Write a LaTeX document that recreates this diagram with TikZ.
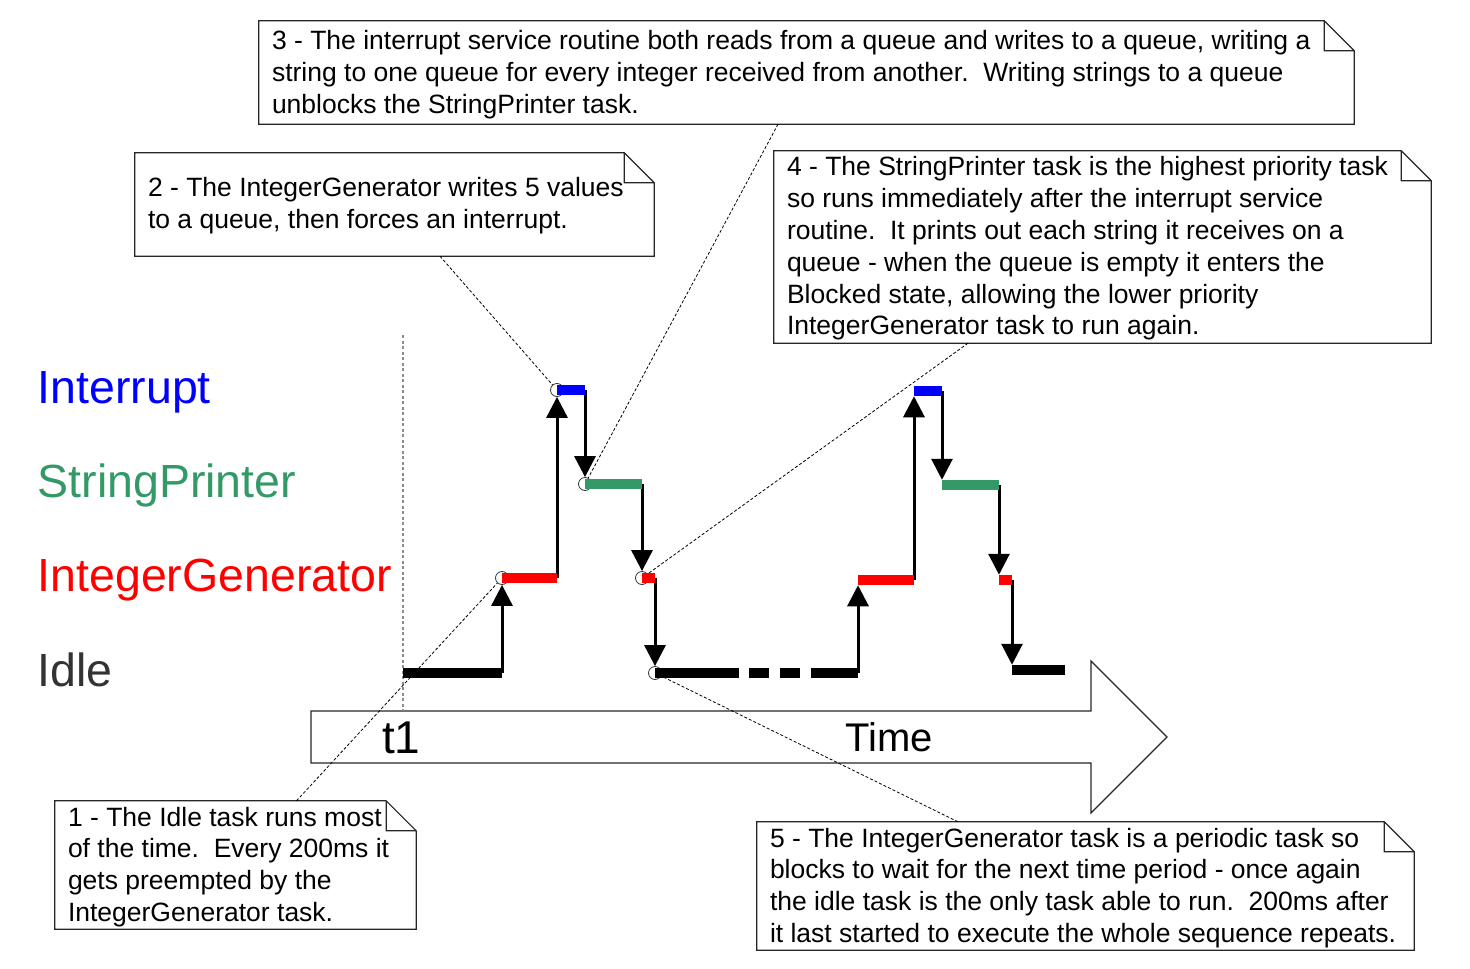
\documentclass[tikz,border=0pt]{standalone}
\usepackage{fontspec}
\setmainfont{Liberation Sans}
\usetikzlibrary{arrows.meta}
\definecolor{irqblue}{RGB}{0,0,255}
\definecolor{prngreen}{RGB}{51,153,102}
\definecolor{genred}{RGB}{255,0,0}
\definecolor{idlegray}{RGB}{51,51,51}
\newcommand{\fold}{30pt}
\tikzset{
  tasklabel/.style={anchor=base west, inner sep=0pt, font=\fontsize{46.5}{56}\selectfont},
  notebox/.style={rectangle, inner sep=0pt},
  notetext/.style={anchor=west, inner sep=0pt, align=left, font=\fontsize{26.5}{31.8}\selectfont},
  noteline/.style={draw=black!85, line width=1.2pt, line join=miter},
  callout/.style={draw=black, line width=0.8pt, dash pattern=on 3pt off 2pt},
  bar/.style={line width=10.5pt},
  switch/.style={line width=3pt, -{Triangle[length=21pt,width=21pt]}},
  pt/.style={circle, draw=black!80, line width=0.8pt, fill=white, minimum size=13pt, inner sep=0pt}
}
\begin{document}
\begin{tikzpicture}[x=1pt,y=-1pt]
\useasboundingbox (0,0) rectangle (1470,969);
\node[notebox, minimum width=361pt, minimum height=128pt] (noteidle) at (235.5,865) {};
\node[notebox, minimum width=519pt, minimum height=103pt] (notegen) at (394.5,204.5) {};
\node[notebox, minimum width=1095pt, minimum height=103pt] (noteisr) at (806.5,72.5) {};
\node[notebox, minimum width=657pt, minimum height=192pt] (noteprint) at (1102.5,247) {};
\node[notebox, minimum width=657pt, minimum height=128pt] (noteperiod) at (1085.5,886) {};
\foreach \n in {noteidle,notegen,noteisr,noteprint,noteperiod}
  \draw[noteline] (\n.south west) -- (\n.north west) -- ([xshift=-\fold]\n.north east)
    -- ([yshift=-\fold]\n.north east) -- (\n.south east) -- cycle
    ([xshift=-\fold]\n.north east) |- ([yshift=-\fold]\n.north east);
\node[notetext] (txtidle) at ([shift={(13,2)}]noteidle.west)
  {1 - The Idle task runs most\\ of the time.\ \ Every 200ms it\\ gets preempted by the\\ IntegerGenerator task.};
\node[notetext] (txtgen) at ([shift={(13,1)}]notegen.west)
  {2 - The IntegerGenerator writes 5 values\\ to a queue, then forces an interrupt.};
\node[notetext] (txtisr) at ([shift={(13,2)}]noteisr.west)
  {3 - The interrupt service routine both reads from a queue and writes to a queue, writing a\\ string to one queue for every integer received from another.\ \ Writing strings to a queue\\ unblocks the StringPrinter task.};
\node[notetext] (txtprint) at ([shift={(13,1.5)}]noteprint.west)
  {4 - The StringPrinter task is the highest priority task\\ so runs immediately after the interrupt service\\ routine.\ \ It prints out each string it receives on a\\ queue - when the queue is empty it enters the\\ Blocked state, allowing the lower priority\\ IntegerGenerator task to run again.};
\node[notetext] (txtperiod) at ([shift={(13,2)}]noteperiod.west)
  {5 - The IntegerGenerator task is a periodic task so\\ blocks to wait for the next time period - once again\\ the idle task is the only task able to run.\ \ 200ms after\\ it last started to execute the whole sequence repeats.};

\draw[noteline, fill=white] (311,711) -- (1091,711) -- (1091,661) -- (1167,737)
  -- (1091,813) -- (1091,763) -- (311,763) -- cycle;
\coordinate (tmark) at (403,335);
\coordinate (tbase) at (403,711);
\draw[black!45, line width=2pt, dash pattern=on 3pt off 2.5pt] (tmark) -- (tbase);
\node[anchor=base west, inner sep=0pt, font=\fontsize{46}{55}\selectfont] (tone) at (382,753) {t1};
\node[anchor=base west, inner sep=0pt, font=\fontsize{40}{48}\selectfont] (timetxt) at (845,751) {Time};

\node[tasklabel, text=irqblue] (lblirq) at (37.5,403) {Interrupt};
\node[tasklabel, text=prngreen] (lblprn) at (37.5,497) {StringPrinter};
\node[tasklabel, text=genred] (lblgen) at (37.5,591) {IntegerGenerator};
\node[tasklabel, text=idlegray] (lblidle) at (37.5,686) {Idle};

\coordinate (idleA) at (403,673);
\coordinate (idleB) at (502,673);
\node[pt] (genA) at (502,578) {};
\coordinate (genB) at (557,578);
\node[pt] (irqA) at (557,390) {};
\coordinate (irqB) at (585,390);
\node[pt] (prnA) at (585,484) {};
\coordinate (prnB) at (642,484);
\node[pt] (genC) at (642,578) {};
\coordinate (genD) at (655,578);
\node[pt] (idleC) at (655,673) {};
\coordinate (idleD) at (858,673);
\coordinate (genE) at (858,580);
\coordinate (genF) at (914,580);
\coordinate (irqC) at (914,391);
\coordinate (irqD) at (942,391);
\coordinate (prnC) at (942,485);
\coordinate (prnD) at (999,485);
\coordinate (genG) at (999,580);
\coordinate (genH) at (1012,580);
\coordinate (idleE) at (1012,670);
\coordinate (idleF) at (1065,670);

\draw[callout] ([xshift=61pt]noteidle.north) -- (genA);
\draw[callout] ([xshift=45.5pt]notegen.south) -- (irqA);
\draw[callout] ([xshift=-28.5pt]noteisr.south) -- (prnA);
\draw[callout] ([xshift=-134.5pt]noteprint.south) -- (genC);
\draw[callout] ([xshift=-127.5pt]noteperiod.north) -- (idleC);

\draw[switch] (idleB) -- (genA);
\draw[switch] (genB) -- (irqA);
\draw[switch] (irqB) -- (prnA);
\draw[switch] (prnB) -- (genC);
\draw[switch] (genD) -- (idleC);
\draw[switch, shorten >=5.25pt] (idleD) -- (genE);
\draw[switch, shorten >=5.25pt] (genF) -- (irqC);
\draw[switch, shorten >=5.25pt] (irqD) -- (prnC);
\draw[switch, shorten >=5.25pt] (prnD) -- (genG);
\draw[switch, shorten >=5.25pt] (genH) -- (idleE);

\draw[bar, black] (idleA) -- (idleB);
\draw[bar, genred] (genA.center) -- (genB);
\draw[bar, irqblue] (irqA.center) -- (irqB);
\draw[bar, prngreen] (prnA.center) -- (prnB);
\draw[bar, genred] (genC.center) -- (genD);
\draw[bar, black, dash pattern=on 84pt off 10pt on 20pt off 11pt on 20pt off 11pt on 60pt] (idleC.center) -- (idleD);
\draw[bar, genred] (genE) -- (genF);
\draw[bar, irqblue] (irqC) -- (irqD);
\draw[bar, prngreen] (prnC) -- (prnD);
\draw[bar, genred] (genG) -- (genH);
\draw[bar, black] (idleE) -- (idleF);
\end{tikzpicture}
\end{document}
